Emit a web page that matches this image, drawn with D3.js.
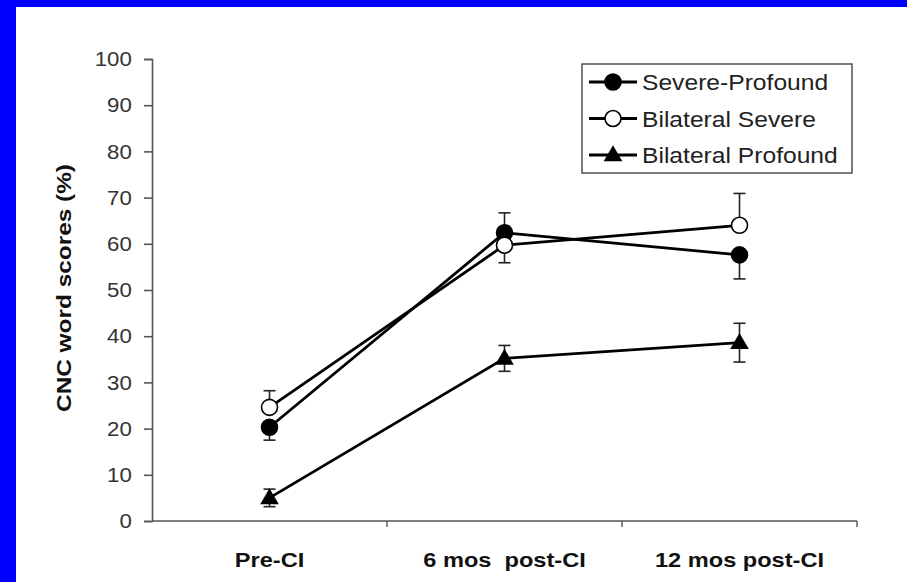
<!DOCTYPE html>
<html>
<head>
<meta charset="utf-8">
<script src="https://cdn.jsdelivr.net/npm/d3@7"></script>
<style>
  html, body { margin: 0; padding: 0; background: #0000ff; }
  svg { display: block; }
</style>
</head>
<body>
<div id="chart"></div>
<script>
"use strict";

// categories and values
var categories = ["Pre-CI", "6 mos  post-CI", "12 mos post-CI"];
var yTicks = [0, 10, 20, 30, 40, 50, 60, 70, 80, 90, 100];

var severeProfound = [20.3, 62.4, 57.6];
var severeProfoundSD = [2.8, 4.3, 5.2];
var severeProfoundDir = ["down", "up", "down"];

var bilatSevere = [24.6, 59.7, 64.0];
var bilatSevereSD = [3.6, 3.8, 6.9];
var bilatSevereDir = ["up", "down", "up"];

var bilatProfound = [5.0, 35.2, 38.6];
var bilatProfoundSD = [1.9, 2.8, 4.2];
var bilatProfoundDir = ["both", "both", "both"];

var seriesNames = ["Severe-Profound", "Bilateral Severe", "Bilateral Profound"];

var series = [
  { name: seriesNames[0], values: severeProfound, sd: severeProfoundSD, dir: severeProfoundDir, marker: "filled" },
  { name: seriesNames[1], values: bilatSevere, sd: bilatSevereSD, dir: bilatSevereDir, marker: "open" },
  { name: seriesNames[2], values: bilatProfound, sd: bilatProfoundSD, dir: bilatProfoundDir, marker: "triangle" }
];

var W = 907, H = 582;
var margin = { left: 152, right: 50, top: 59, bottom: 61 };
var FONT = "Liberation Sans, Arial, sans-serif";

var svg = d3.select("#chart").append("svg").attr("width", W).attr("height", H);

// white panel inside the blue frame
svg.append("rect").attr("x", 16).attr("y", 7).attr("width", W - 16).attr("height", H - 7).attr("fill", "#fff");

var x = d3.scaleBand().domain(categories).range([margin.left, W - margin.right]);
var y = d3.scaleLinear().domain([0, 100]).range([H - margin.bottom, margin.top]);

var axisColor = "#555";

// y axis
var yAxis = svg.append("g")
  .attr("transform", "translate(" + margin.left + ",0)")
  .call(d3.axisLeft(y).tickValues(yTicks).tickSize(8).tickPadding(11));
yAxis.select(".domain").attr("stroke", axisColor).attr("stroke-width", 1.6);
yAxis.selectAll(".tick line").attr("stroke", axisColor).attr("stroke-width", 1.6);
yAxis.selectAll(".tick text")
  .attr("fill", "#333")
  .style("font-family", FONT)
  .style("font-size", "21px")
  .attr("transform", "scale(1.06,1)");

// x axis: ticks at category boundaries
var xAxisG = svg.append("g").attr("transform", "translate(0," + y(0) + ")");
xAxisG.append("line")
  .attr("x1", margin.left).attr("x2", W - margin.right)
  .attr("stroke", axisColor).attr("stroke-width", 1.6);
var bounds = categories.map(function (c) { return x(c) + x.bandwidth(); });
xAxisG.selectAll("line.tk").data(bounds).join("line")
  .attr("class", "tk")
  .attr("x1", function (d) { return d; }).attr("x2", function (d) { return d; })
  .attr("y1", 0).attr("y2", 6)
  .attr("stroke", axisColor).attr("stroke-width", 1.4);
xAxisG.selectAll("text").data(categories).join("text")
  .attr("transform", function (d) {
    return "translate(" + (x(d) + x.bandwidth() / 2) + ",46) scale(1.18,1)";
  })
  .attr("text-anchor", "middle")
  .attr("fill", "#111")
  .style("font-family", FONT)
  .style("font-weight", "bold")
  .style("font-size", "20px")
  .style("white-space", "pre")
  .text(function (d) { return d; });

// y title
svg.append("text")
  .attr("transform", "translate(71," + (y(50) - 2) + ") rotate(-90) scale(1.22,1)")
  .attr("text-anchor", "middle")
  .attr("fill", "#111")
  .style("font-family", FONT)
  .style("font-weight", "bold")
  .style("font-size", "20px")
  .text("CNC word scores (%)");

function cx(i) { return x(categories[i]) + x.bandwidth() / 2; }

var line = d3.line()
  .x(function (d, i) { return cx(i); })
  .y(function (d) { return y(d); });

// connecting lines
series.forEach(function (s) {
  svg.append("path")
    .attr("d", line(s.values))
    .attr("fill", "none")
    .attr("stroke", "#000")
    .attr("stroke-width", 2.8);
});

// error bars
series.forEach(function (s) {
  s.values.forEach(function (v, i) {
    var lo = s.dir[i] === "up" ? v : v - s.sd[i];
    var hi = s.dir[i] === "down" ? v : v + s.sd[i];
    var g = svg.append("g").attr("stroke", "#222").attr("stroke-width", 1.6);
    g.append("line").attr("x1", cx(i)).attr("x2", cx(i)).attr("y1", y(lo)).attr("y2", y(hi));
    if (s.dir[i] !== "up") {
      g.append("line").attr("x1", cx(i) - 6).attr("x2", cx(i) + 6).attr("y1", y(lo)).attr("y2", y(lo));
    }
    if (s.dir[i] !== "down") {
      g.append("line").attr("x1", cx(i) - 6).attr("x2", cx(i) + 6).attr("y1", y(hi)).attr("y2", y(hi));
    }
  });
});

function drawMarker(g, type, px, py) {
  if (type === "triangle") {
    g.append("path")
      .attr("d", d3.symbol().type(d3.symbolTriangle).size(150)())
      .attr("transform", "translate(" + px + "," + (py + 1) + ")")
      .attr("fill", "#000");
  } else {
    g.append("circle")
      .attr("cx", px).attr("cy", py).attr("r", 8)
      .attr("fill", type === "filled" ? "#000" : "#fff")
      .attr("stroke", "#000").attr("stroke-width", 1.6);
  }
}

// markers
series.forEach(function (s) {
  var g = svg.append("g");
  s.values.forEach(function (v, i) { drawMarker(g, s.marker, cx(i), y(v)); });
});

// legend
var legend = svg.append("g");
legend.append("rect")
  .attr("x", 582).attr("y", 64).attr("width", 270).attr("height", 109)
  .attr("fill", "#fff").attr("stroke", "#444").attr("stroke-width", 1.4);
series.forEach(function (s, i) {
  var ly = 82 + i * 36.5;
  var g = legend.append("g");
  g.append("line").attr("x1", 589).attr("x2", 637).attr("y1", ly).attr("y2", ly)
    .attr("stroke", "#000").attr("stroke-width", 2.8);
  drawMarker(g, s.marker, 613, ly);
  g.append("text")
    .attr("transform", "translate(642," + (ly + 8) + ") scale(1.12,1)")
    .attr("fill", "#222")
    .style("font-family", FONT)
    .style("font-size", "22px")
    .text(s.name);
});
</script>
</body>
</html>
